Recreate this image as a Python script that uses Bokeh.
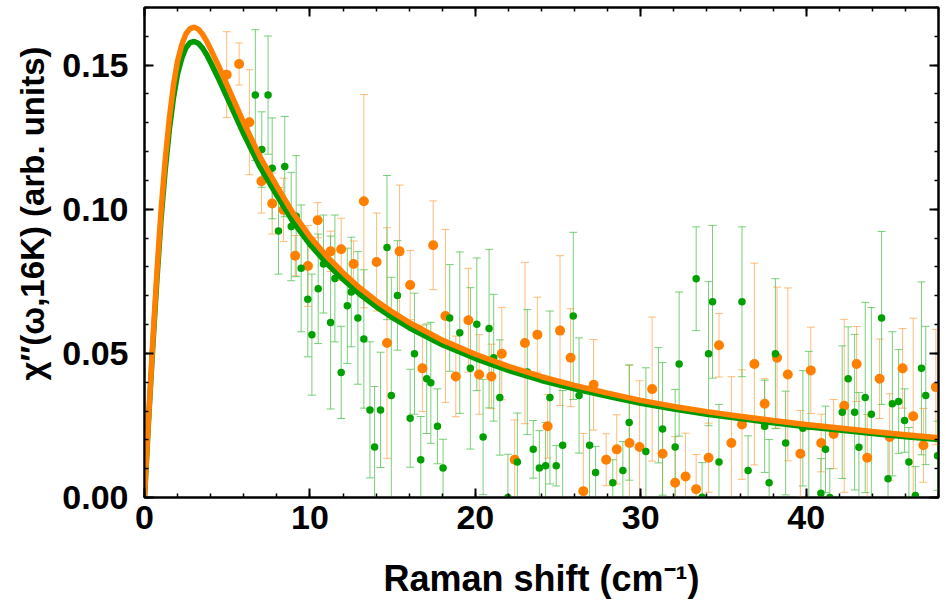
from bokeh.plotting import figure
from bokeh.models import (ColumnDataSource, Whisker, TeeHead, LinearAxis, Range1d, Title,
                          SingleIntervalTicker, CustomJSTickFormatter, NumeralTickFormatter)
from bokeh.embed import file_html
from bokeh.resources import INLINE

# Raman response at 16 K: two measurement series with error bars and their fits
orange_x = [4.97, 5.72, 6.34, 7.07, 7.72, 8.40, 9.11, 9.88, 10.47, 11.25,
            11.89, 12.64, 13.26, 14.03, 14.66, 15.42, 16.06, 16.80, 17.45, 18.19,
            18.82, 19.58, 20.23, 20.97, 21.60, 22.38, 23.00, 23.75, 24.37, 25.12,
            25.76, 26.53, 27.15, 27.91, 28.55, 29.32, 29.93, 30.69, 31.32, 32.08,
            32.71, 33.35, 34.10, 34.73, 35.48, 36.12, 36.87, 37.49, 38.24, 38.89,
            39.65, 40.28, 40.91, 41.66, 42.30, 43.05, 43.69, 44.44, 45.05, 45.83,
            46.47, 47.09, 47.84]
orange_y = [0.1467, 0.1504, 0.1302, 0.1097, 0.1020, 0.0998, 0.0839, 0.0803, 0.0962, 0.0854,
            0.0861, 0.0810, 0.1028, 0.0817, 0.0536, 0.0854, 0.0737, 0.0448, 0.0875, 0.0630,
            0.0420, 0.0615, 0.0427, 0.0420, 0.0499, 0.0131, 0.0536, 0.0565, 0.0247, 0.0579,
            0.0485, 0.0022, 0.0391, 0.0131, 0.0167, 0.0189, 0.0175, 0.0376, 0.0152, 0.0051,
            0.0073, 0.0029, 0.0138, 0.0528, 0.0189, 0.0253, 0.0463, 0.0325, 0.0485, 0.0427,
            0.0152, 0.0441, 0.0189, 0.0220, 0.0318, 0.0463, 0.0138, 0.0412, 0.0210, 0.0448,
            0.0282, 0.0181, 0.0383]
orange_err = [0.0149, 0.0073, 0.0182, 0.0110, 0.0106, 0.0110, 0.0070, 0.0140, 0.0061, 0.0070,
              0.0108, 0.0080, 0.0370, 0.0170, 0.0400, 0.0230, 0.0120, 0.0150, 0.0154, 0.0300,
              0.0140, 0.0180, 0.0138, 0.0112, 0.0160, 0.0138, 0.0280, 0.0130, 0.0110, 0.0260,
              0.0170, 0.0200, 0.0157, 0.0090, 0.0120, 0.0270, 0.0230, 0.0250, 0.0160, 0.0160,
              0.0150, 0.0120, 0.0120, 0.0110, 0.0230, 0.0190, 0.0350, 0.0087, 0.0245, 0.0300,
              0.0150, 0.0150, 0.0100, 0.0120, 0.0300, 0.0130, 0.0150, 0.0138, 0.0150, 0.0138,
              0.0340, 0.0128, 0.0200]

green_x = [6.70, 7.09, 7.47, 7.72, 8.10, 8.48, 8.87, 9.17, 9.47, 9.87,
           10.12, 10.50, 10.82, 11.25, 11.51, 11.89, 12.26, 12.50, 12.90, 13.26,
           13.63, 13.91, 14.27, 14.66, 14.92, 15.29, 16.06, 16.32, 16.70, 17.06,
           17.31, 17.71, 18.05, 18.45, 19.06, 19.70, 20.09, 20.47, 20.83, 21.11,
           21.48, 21.97, 22.54, 23.14, 23.50, 23.87, 24.25, 24.51, 24.89, 25.28,
           25.92, 26.27, 26.91, 27.27, 28.31, 28.92, 29.30, 30.31, 31.07, 31.32,
           32.08, 32.32, 33.35, 33.71, 34.10, 34.34, 34.73, 36.12, 36.49, 37.49,
           37.76, 38.14, 38.76, 39.80, 40.16, 40.89, 41.17, 41.43, 42.18, 42.54,
           42.93, 43.19, 43.57, 43.94, 44.56, 44.95, 45.21, 45.59, 45.95, 46.21,
           46.60, 46.97, 47.23, 47.94]
green_y = [0.1396, 0.1207, 0.1396, 0.1142, 0.0925, 0.1148, 0.0940, 0.0976, 0.0795, 0.0688,
           0.0565, 0.0724, 0.0810, 0.0607, 0.0760, 0.0434, 0.0665, 0.0713, 0.0623, 0.0550,
           0.0304, 0.0175, 0.0304, 0.0867, 0.0354, 0.0701, 0.0275, 0.0499, 0.0131, 0.0412,
           0.0398, 0.0247, 0.0102, 0.0623, 0.0572, 0.0448, 0.0601, 0.0210, 0.0586, 0.0485,
           0.0347, 0.0000, 0.0123, 0.0435, 0.0167, 0.0102, 0.0110, 0.0347, 0.0110, 0.0181,
           0.0630, 0.0354, 0.0181, 0.0087, 0.0051, 0.0094, 0.0260, 0.0160, 0.0320, 0.0238,
           0.0175, 0.0463, 0.0759, 0.0001, 0.0499, 0.0679, 0.0123, 0.0679, 0.0094, 0.0247,
           0.0051, 0.0499, 0.0189, 0.0240, 0.0247, 0.0015, 0.0167, 0.0000, 0.0296, 0.0412,
           0.0296, 0.0174, 0.0347, 0.0289, 0.0623, 0.0065, 0.0325, 0.0333, 0.0267, 0.0123,
           0.0007, 0.0448, 0.0354, 0.0145]
green_err = [0.0227, 0.0131, 0.0205, 0.0175, 0.0150, 0.0174, 0.0188, 0.0210, 0.0220, 0.0200,
             0.0210, 0.0190, 0.0170, 0.0300, 0.0220, 0.0160, 0.0200, 0.0190, 0.0230, 0.0240,
             0.0236, 0.0210, 0.0200, 0.0250, 0.0410, 0.0190, 0.0170, 0.0210, 0.0150, 0.0190,
             0.0210, 0.0130, 0.0100, 0.0185, 0.0280, 0.0280, 0.0230, 0.0200, 0.0275, 0.0220,
             0.0200, 0.0150, 0.0170, 0.0217, 0.0100, 0.0130, 0.0150, 0.0300, 0.0070, 0.0190,
             0.0290, 0.0200, 0.0200, 0.0090, 0.0080, 0.0100, 0.0200, 0.0290, 0.0200, 0.0230,
             0.0200, 0.0250, 0.0180, 0.0120, 0.0250, 0.0265, 0.0200, 0.0260, 0.0120, 0.0160,
             0.0150, 0.0260, 0.0180, 0.0200, 0.0260, 0.0120, 0.0150, 0.0100, 0.0230, 0.0180,
             0.0270, 0.0190, 0.0330, 0.0370, 0.0300, 0.0160, 0.0250, 0.0180, 0.0110, 0.0120,
             0.0100, 0.0300, 0.0240, 0.0120]

# fitted curves, sampled along the Raman shift axis
fit_x = [0, 0.25, 0.5, 0.75, 1.0, 1.25, 1.5, 1.75, 2.0, 2.25, 2.5, 2.75, 3.0, 3.25, 3.5,
         3.75, 4.0, 4.5, 5.0, 5.5, 6.0, 7.0, 8.0, 9.0, 10.0, 11.0, 12.0, 13.0, 14.0, 15.0,
         16.0, 18.0, 20.0, 22.0, 24.0, 26.0, 28.0, 30.0, 32.0, 34.0, 36.0, 38.0, 40.0, 42.0,
         44.0, 46.0, 48.0]
orange_fit = [0, 0.028, 0.054, 0.078, 0.0995, 0.117, 0.1315, 0.143, 0.1515, 0.157, 0.1608,
              0.1627, 0.1632, 0.1625, 0.1608, 0.1584, 0.1555, 0.1495, 0.143, 0.1365, 0.130,
              0.118, 0.108, 0.0985, 0.0905, 0.0838, 0.078, 0.0728, 0.0683, 0.0643, 0.0607,
              0.0546, 0.0497, 0.0455, 0.0419, 0.0389, 0.0362, 0.0337, 0.0316, 0.0298, 0.0282,
              0.0267, 0.0253, 0.0241, 0.0229, 0.0218, 0.0207]
green_fit = [0, 0.027, 0.0523, 0.0755, 0.0965, 0.1135, 0.1275, 0.1386, 0.147, 0.1523, 0.156,
             0.1578, 0.1582, 0.1576, 0.156, 0.1537, 0.1509, 0.145, 0.1387, 0.1324, 0.1261,
             0.1145, 0.1048, 0.0955, 0.0878, 0.0813, 0.0757, 0.0706, 0.0662, 0.0624, 0.0589,
             0.053, 0.0482, 0.0441, 0.0406, 0.0377, 0.0351, 0.0327, 0.0307, 0.0289, 0.0274,
             0.0259, 0.0245, 0.0234, 0.0222, 0.0211, 0.0201]

ORANGE = "#ff8000"
ORANGE_BAR = "#ffa64d"
GREEN = "#00a000"
GREEN_BAR = "#4cc04c"
FONT = "Liberation Sans"

p = figure(width=946, height=609, output_backend="svg", toolbar_location=None,
           x_range=Range1d(0, 48), y_range=Range1d(0, 0.17),
           min_border_left=144, min_border_right=8, min_border_top=7, min_border_bottom=112)
p.background_fill_color = "white"
p.border_fill_color = "white"
p.outline_line_color = "black"
p.outline_line_width = 2
p.xgrid.visible = False
p.ygrid.visible = False


def with_err(xs, ys, es):
    return ColumnDataSource(dict(
        x=xs, y=ys,
        lower=[a - b for a, b in zip(ys, es)],
        upper=[a + b for a, b in zip(ys, es)],
    ))


src_o = with_err(orange_x, orange_y, orange_err)
src_g = with_err(green_x, green_y, green_err)

for src, col in ((src_o, ORANGE_BAR), (src_g, GREEN_BAR)):
    w = Whisker(source=src, base="x", lower="lower", upper="upper",
                line_color=col, line_alpha=0.75, line_width=1,
                lower_head=TeeHead(size=8, line_color=col, line_alpha=0.75, line_width=1),
                upper_head=TeeHead(size=8, line_color=col, line_alpha=0.75, line_width=1))
    p.add_layout(w)

p.scatter("x", "y", source=src_o, size=10, color=ORANGE, line_color=None)
p.scatter("x", "y", source=src_g, size=7.5, color=GREEN, line_color=None)

p.line(fit_x, green_fit, line_color="#009a00", line_width=5.5)
p.line(fit_x, orange_fit, line_color=ORANGE, line_width=5.5)

xt = SingleIntervalTicker(interval=10, num_minor_ticks=5)
yt = SingleIntervalTicker(interval=0.05, num_minor_ticks=5)


def style(ax):
    ax.axis_line_color = "black"
    ax.axis_line_width = 2
    ax.major_tick_in = 9
    ax.major_tick_out = 0
    ax.minor_tick_in = 4
    ax.minor_tick_out = 0
    ax.major_tick_line_width = 2
    ax.minor_tick_line_width = 1.5
    ax.major_label_text_font = FONT
    ax.major_label_text_font_style = "bold"
    ax.major_label_text_font_size = "34px"
    ax.major_label_text_color = "black"
    ax.axis_label_text_font = FONT
    ax.axis_label_text_font_style = "bold"
    ax.axis_label_text_font_size = "36px"
    ax.axis_label_text_color = "black"


xa = p.xaxis[0]
ya = p.yaxis[0]
xa.ticker = xt
ya.ticker = yt
style(xa)
style(ya)
xa.formatter = NumeralTickFormatter(format="0")
ya.formatter = NumeralTickFormatter(format="0.00")
xa.major_label_standoff = 8
ya.major_label_standoff = 16
xa.axis_label = "Raman shift (cm\u207b\u00b9)"
xa.axis_label_standoff = 26

# y title sits in the left panel, starting a little above the frame's bottom
ytitle = Title(text="\u03c7\u2033(\u03c9,16K) (arb. units)", align="left", offset=117,
               text_font=FONT, text_font_style="bold", text_font_size="33px",
               text_color="black", standoff=17)
p.add_layout(ytitle, "left")

blank = CustomJSTickFormatter(code="return ''")
top = LinearAxis(ticker=xt, formatter=blank)
right = LinearAxis(ticker=yt, formatter=blank)
for ax in (top, right):
    style(ax)
    ax.major_label_standoff = 0
    ax.major_label_text_font_size = "1px"
p.add_layout(top, "above")
p.add_layout(right, "right")

open("out.html", "w").write(file_html(p, INLINE))
